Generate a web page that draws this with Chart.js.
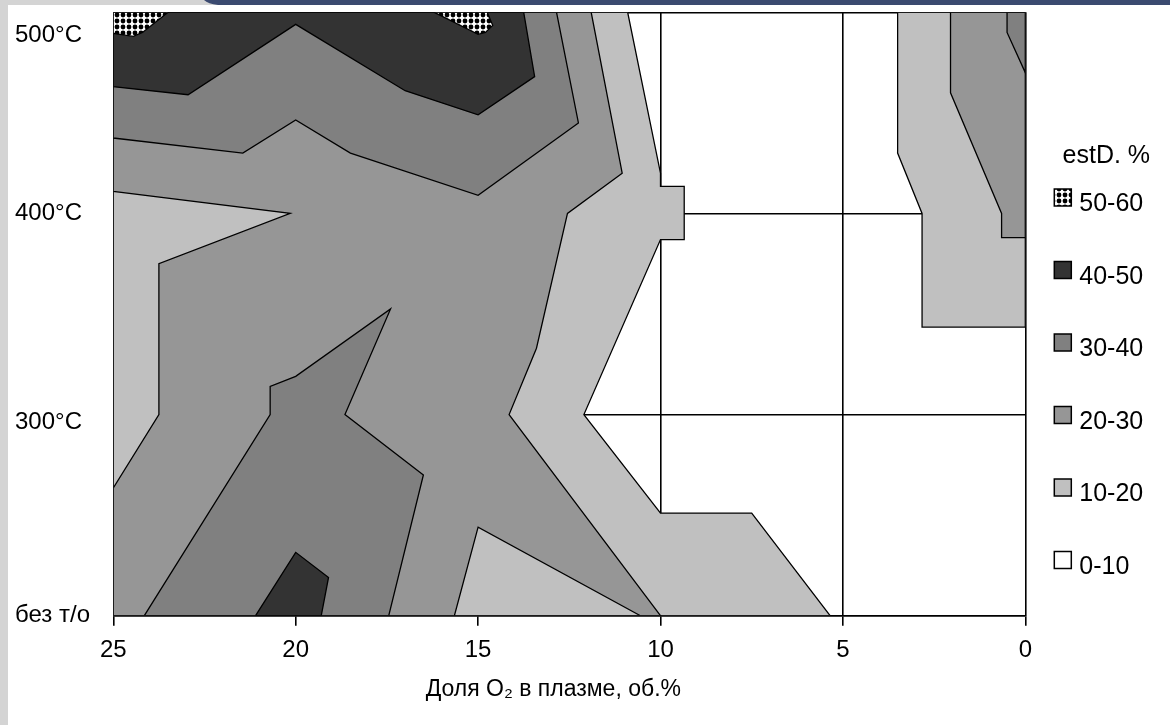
<!DOCTYPE html>
<html>
<head>
<meta charset="utf-8">
<script src="https://cdn.jsdelivr.net/npm/chart.js@4.4.0/dist/chart.umd.min.js"></script>
<style>
  html, body { margin: 0; padding: 0; background: #fff; }
  #wrap { position: relative; width: 1170px; height: 725px; }
</style>
</head>
<body>
<div id="wrap"><canvas id="chart" width="1170" height="725"></canvas></div>
<script>
// y categories (0 = без т/о ... 3 = 500°C), x = доля O2, %
const yLabels = ['без т/о', '300°C', '400°C', '500°C'];
const legendLabels = ['50-60', '40-50', '30-40', '20-30', '10-20', '0-10'];

// contour areas: each list holds the polygons where estD >= level
const area10 = [
  [[25, 3], [10.9, 3], [10, 2.2], [10, 2.135], [9.35, 2.135], [9.35, 1.87], [10, 1.87],
   [12.1, 1.0], [10, 0.51], [7.5, 0.51], [5.35, 0], [25, 0]],
  [[3.5, 3], [3.5, 2.3], [2.83, 2.0], [2.83, 1.435], [0, 1.435], [0, 3]]
];
const area20 = [
  [[25, 3], [11.9, 3], [11.05, 2.2], [12.55, 2.0], [13.4, 1.33], [14.15, 1.0], [10, 0],
   [10.55, 0], [15, 0.44], [15.65, 0], [25, 0], [25, 0.635], [23.75, 1.0], [23.75, 1.75],
   [20.15, 2.0], [25, 2.11]],
  [[2.05, 3], [2.05, 2.6], [0.65, 2.0], [0.65, 1.88], [0, 1.88], [0, 3]]
];
const area30 = [
  [[25, 3], [12.85, 3], [12.25, 2.45], [15, 2.09], [18.5, 2.3], [20, 2.465], [21.45, 2.3], [25, 2.375]],
  [[24.15, 0], [20.7, 1.0], [20.7, 1.14], [20, 1.19], [17.4, 1.525], [18.65, 1.0], [16.5, 0.7], [17.45, 0]],
  [[0.5, 3], [0.5, 2.9], [0, 2.7], [0, 3]]
];
const area40 = [
  [[25, 3], [13.75, 3], [13.45, 2.68], [15, 2.49], [17, 2.61], [20, 2.94], [22.95, 2.59], [25, 2.63]],
  [[21.1, 0], [20, 0.315], [19.1, 0.19], [19.3, 0]]
];
const area50 = [
  [[25, 3], [23.5, 3], [24.2, 2.9], [24.45, 2.88], [25, 2.895]],
  [[16.2, 3], [14.75, 3], [14.6, 2.935], [14.8, 2.9], [15, 2.89]]
];

const FONT = '"Liberation Sans", Arial, sans-serif';
const canvas = document.getElementById('chart');
const ctx = canvas.getContext('2d');

// dotted fill used by Excel for the top band
function dotPattern() {
  const t = document.createElement('canvas');
  t.width = 6; t.height = 6;
  const g = t.getContext('2d');
  g.fillStyle = '#fff';
  g.fillRect(0, 0, 6, 6);
  g.fillStyle = '#000';
  g.beginPath();
  g.arc(3, 3, 2.4, 0, Math.PI * 2);
  g.fill();
  return ctx.createPattern(t, 'repeat');
}
const dots = dotPattern();
const legendFills = [dots, '#333333', '#808080', '#969696', '#c0c0c0', '#ffffff'];

const levels = [
  {min: 10, polys: area10, color: '#c0c0c0'},
  {min: 20, polys: area20, color: '#969696'},
  {min: 30, polys: area30, color: '#808080'},
  {min: 40, polys: area40, color: '#333333'},
  {min: 50, polys: area50, color: dots}
];

const datasets = [];
levels.forEach(lv => {
  lv.polys.forEach(poly => {
    const pts = poly.map(p => ({x: p[0], y: p[1]}));
    pts.push({x: poly[0][0], y: poly[0][1]});
    datasets.push({
      data: pts,
      showLine: true,
      fill: 'shape',
      backgroundColor: lv.color,
      borderColor: '#000',
      borderWidth: 1.3,
      pointRadius: 0,
      tension: 0,
      order: 100 - lv.min
    });
  });
});

const page = {
  id: 'page',
  beforeDraw(chart) {
    const c = chart.ctx, w = chart.width, h = chart.height;
    c.save();
    c.fillStyle = '#fff';
    c.fillRect(0, 0, w, h);
    c.fillStyle = '#d4d4d4';
    c.fillRect(0, 0, 8, h);
    c.fillRect(0, 0, w, 5);
    c.fillStyle = '#3b4a70';
    c.beginPath();
    c.moveTo(204, 0);
    c.lineTo(w, 0);
    c.lineTo(w, 5);
    c.lineTo(218, 5);
    c.quadraticCurveTo(208, 4, 204, 0);
    c.fill();
    c.restore();
  },
  afterDraw(chart) {
    const c = chart.ctx, a = chart.chartArea;
    const bx = a.right + 29;
    c.save();
    c.font = '25px ' + FONT;
    c.fillStyle = '#000';
    c.textAlign = 'center';
    c.textBaseline = 'middle';
    c.fillText('estD. %', a.right + 81, 156);
    c.textAlign = 'left';
    legendLabels.forEach((lab, i) => {
      const cy = 197.5 + i * 72.5;
      c.fillStyle = legendFills[i];
      c.fillRect(bx, cy - 8.5, 17, 17);
      c.strokeStyle = '#000';
      c.lineWidth = 1.5;
      c.strokeRect(bx, cy - 8.5, 17, 17);
      c.fillStyle = '#000';
      c.fillText(lab, bx + 25, cy + 7);
    });
    c.restore();
  }
};

// 500°C and 300°C labels sit a bit lower than their grid line in the original
const labelDrop = {3: 23, 1: 8};

new Chart(ctx, {
  type: 'scatter',
  data: {datasets},
  options: {
    responsive: false,
    animation: false,
    events: [],
    layout: {padding: {left: 15, top: 12.3, right: 144.7, bottom: 0}},
    plugins: {legend: {display: false}, tooltip: {enabled: false}},
    scales: {
      x: {
        type: 'linear',
        min: 0,
        max: 25,
        reverse: true,
        z: 1,
        afterFit(s) { s.height = 109.3; s.paddingLeft = 0; s.paddingRight = 0; },
        ticks: {stepSize: 5, color: '#000', padding: 10, font: {family: FONT, size: 24}},
        grid: {color: '#000', lineWidth: 1.6, tickLength: 10, tickColor: '#000', tickWidth: 1.6},
        border: {color: '#000', width: 1.6},
        title: {
          display: true,
          // trailing spaces keep the title a little left of centre, as in the original
          text: 'Доля O₂ в плазме, об.%\u00a0\u00a0\u00a0\u00a0\u00a0',
          color: '#000',
          padding: {top: 0, bottom: 22},
          font: {family: FONT, size: 23}
        }
      },
      y: {
        type: 'linear',
        min: 0,
        max: 3,
        z: 1,
        afterFit(s) { s.width = 98.3; s.paddingTop = 0; s.paddingBottom = 0; },
        ticks: {
          stepSize: 1,
          color: '#000',
          crossAlign: 'far',
          callback: v => labelDrop[v] ? ['', yLabels[v]] : yLabels[v],
          font: c => ({family: FONT, size: 24, lineHeight: labelDrop[c.index] ? labelDrop[c.index] * 2 / 24 : 1.2})
        },
        grid: {color: '#000', lineWidth: 1.6, drawTicks: false},
        border: {color: '#000', width: 1.6}
      }
    }
  },
  plugins: [page]
});
</script>
</body>
</html>
